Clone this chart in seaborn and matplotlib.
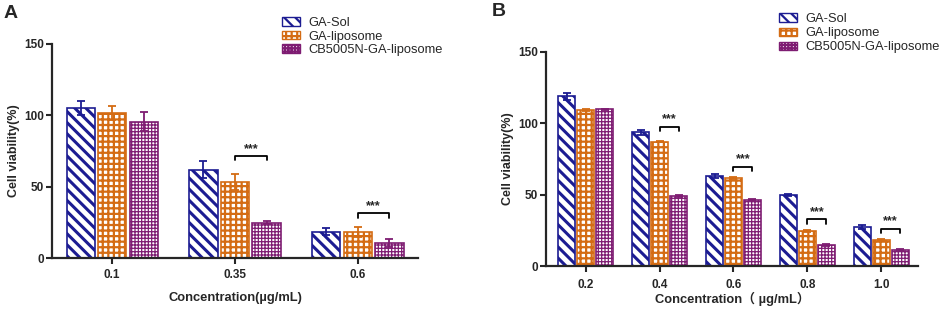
import numpy as np
import pandas as pd
import matplotlib as mpl
import matplotlib.pyplot as plt
from matplotlib.patches import Patch
import seaborn as sns

mpl.use('Agg')

# Data
groups = ['GA-Sol', 'GA-liposome', 'CB5005N-GA-liposome']

conc_a = ['0.1', '0.35', '0.6']
a_sol = [105.0, 62.0, 18.3]
a_sol_err = [5.0, 6.0, 2.5]
a_lip = [101.7, 53.0, 18.3]
a_lip_err = [5.0, 5.6, 3.5]
a_cb = [95.6, 24.6, 10.8]
a_cb_err = [6.4, 1.0, 2.8]
a_sig_idx = [1, 2]
a_sig_y = [71.5, 31.2]

conc_b = ['0.2', '0.4', '0.6', '0.8', '1.0']
b_sol = [118.8, 93.7, 63.3, 49.7, 27.4]
b_sol_err = [2.2, 1.9, 1.4, 0.8, 1.2]
b_lip = [109.2, 87.2, 61.9, 24.8, 18.0]
b_lip_err = [0.8, 0.6, 0.7, 0.6, 0.7]
b_cb = [109.7, 49.2, 46.6, 14.5, 11.5]
b_cb_err = [0.6, 0.6, 0.6, 0.6, 0.7]
b_sig_idx = [1, 2, 3, 4]
b_sig_y = [97.7, 69.6, 32.8, 26.2]

colors = ['#1c1c92', '#d46c14', '#7e1c72']
hatches = ['\\\\\\', '+++', '+++++']
hatch_lw = [2.2, 1.6, 0.9]

sns.set_style('ticks')
plt.rcParams['font.family'] = ['Liberation Sans', 'Noto Sans CJK SC']
plt.rcParams['axes.linewidth'] = 1.6
plt.rcParams['hatch.linewidth'] = 1.6


def style_bar(bar, k):
    bar.set_facecolor('white')
    bar.set_edgecolor(colors[k])
    bar.set_hatch(hatches[k])
    bar.set_linewidth(1.2)
    if hasattr(bar, 'set_hatch_linewidth'):
        bar.set_hatch_linewidth(hatch_lw[k])


def panel(ax, conc, vals, errs, sig_idx, sig_y, xlabel, xlim):
    df = pd.DataFrame({
        'conc': np.tile(conc, 3),
        'group': np.repeat(groups, len(conc)),
        'val': np.concatenate(vals),
    })
    sns.barplot(data=df, x='conc', y='val', hue='group', order=conc,
                hue_order=groups, width=0.77, gap=0.1, errorbar=None,
                legend=False, ax=ax)
    bar_conts = list(ax.containers)
    centers = []
    for k, cont in enumerate(bar_conts):
        xs = []
        for bar in cont:
            style_bar(bar, k)
            xs.append(bar.get_x() + bar.get_width() / 2)
        centers.append(xs)
        ax.errorbar(xs, vals[k], yerr=errs[k], fmt='none', ecolor=colors[k],
                    elinewidth=1.3, capsize=2.8, capthick=1.3, zorder=3)
    # significance brackets between GA-liposome and CB5005N-GA-liposome
    for i, y in zip(sig_idx, sig_y):
        x1, x2 = centers[1][i], centers[2][i]
        ax.plot([x1, x1, x2, x2], [y - 3, y, y, y - 3], color='black',
                lw=1.3, clip_on=False)
        ax.text((x1 + x2) / 2, y + 0.8, '***', ha='center', va='bottom',
                fontsize=9, fontweight='bold')
    ax.set_ylim(0, 150)
    ax.set_yticks([0, 50, 100, 150])
    ax.set_xlim(*xlim)
    ax.set_xlabel(xlabel, fontsize=9.3, fontweight='bold', labelpad=8)
    ax.set_ylabel('Cell viability(%)', fontsize=9, fontweight='bold', labelpad=3)
    ax.tick_params(axis='both', length=4, width=1.5, labelsize=8.5, pad=2)
    ax.tick_params(axis='x', pad=4)
    for lab in ax.get_xticklabels() + ax.get_yticklabels():
        lab.set_fontweight('bold')
    sns.despine(ax=ax)


fig = plt.figure(figsize=(9.41, 3.09), dpi=100)
ax_a = fig.add_axes([0.0553, 0.165, 0.3889, 0.693])
ax_b = fig.add_axes([0.5802, 0.139, 0.3954, 0.693])

panel(ax_a, conc_a, [a_sol, a_lip, a_cb], [a_sol_err, a_lip_err, a_cb_err],
      a_sig_idx, a_sig_y, 'Concentration(\u00b5g/mL)', (-0.49, 2.49))
panel(ax_b, conc_b, [b_sol, b_lip, b_cb], [b_sol_err, b_lip_err, b_cb_err],
      b_sig_idx, b_sig_y, 'Concentration\uff08 \u00b5g/mL\uff09', (-0.54, 4.5))
ax_b.xaxis.labelpad = 1
ax_b.tick_params(axis='x', pad=5)

handles = []
for k in range(3):
    p = Patch(facecolor='white', edgecolor=colors[k], hatch=hatches[k],
              linewidth=1.0, label=groups[k])
    if hasattr(p, 'set_hatch_linewidth'):
        p.set_hatch_linewidth(hatch_lw[k])
    handles.append(p)

for anchor, sp in [((0.300, 0.945), 0.12), ((0.828, 0.958), 0.17)]:
    fig.legend(handles=handles, loc='upper left', bbox_to_anchor=anchor,
               frameon=False, fontsize=9.3, handlelength=1.4, handleheight=0.6,
               handletextpad=0.6, labelspacing=sp, borderpad=0,
               borderaxespad=0)

fig.text(0.004, 0.985, 'A', fontsize=14, fontweight='bold', va='top')
fig.text(0.523, 0.99, 'B', fontsize=14, fontweight='bold', va='top')

fig.savefig('out.png', dpi=100)
